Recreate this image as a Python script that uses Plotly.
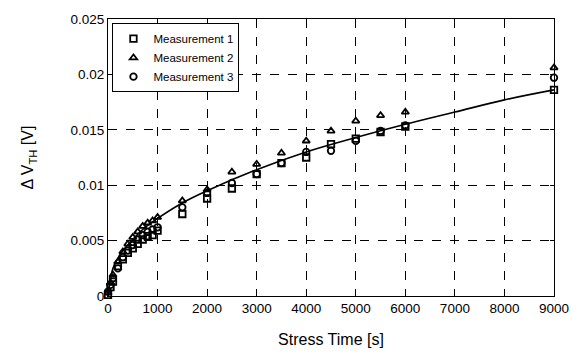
import plotly.graph_objects as go

t_meas = [0, 50, 100, 200, 300, 400, 500, 600, 700, 800, 900, 1000,
          1500, 2000, 2500, 3000, 3500, 4000, 4500, 5000, 5500, 6000, 9000]
meas1 = [0.0001, 0.0008, 0.0013, 0.0027, 0.0033, 0.0039, 0.0043, 0.0047, 0.0051, 0.0054, 0.0055, 0.0059,
         0.0074, 0.0088, 0.0097, 0.0110, 0.0120, 0.0125, 0.0137, 0.0142, 0.0148, 0.0153, 0.0186]
meas2 = [0.0003, 0.0012, 0.0019, 0.0031, 0.0040, 0.0047, 0.0053, 0.0058, 0.0063, 0.0066, 0.0068, 0.0071,
         0.0086, 0.0096, 0.0112, 0.0119, 0.0129, 0.0140, 0.0149, 0.0158, 0.0163, 0.0166, 0.0206]
meas3 = [0.0004, 0.0010, 0.0016, 0.0025, 0.0035, 0.0041, 0.0046, 0.0051, 0.0055, 0.0058, 0.0060, 0.0062,
         0.0080, 0.0093, 0.0102, 0.0110, 0.0120, 0.0130, 0.0131, 0.0140, 0.0149, 0.0154, 0.0197]

t_fit = [0, 100, 200, 300, 500, 700, 1000, 1500, 2000, 3000, 4000, 5000, 6000, 7000, 8000, 9000]
fit = [0.0, 0.0025, 0.0034, 0.0041, 0.0051, 0.0060, 0.0070, 0.0084, 0.0095, 0.0114,
       0.0130, 0.0143, 0.0155, 0.0166, 0.0177, 0.0186]

x_ticks = [0, 1000, 2000, 3000, 4000, 5000, 6000, 7000, 8000, 9000]
y_ticks = [0, 0.005, 0.01, 0.015, 0.02, 0.025]
y_labels = ["0", "0.005", "0.01", "0.015", "0.02", "0.025"]

FONT = "Liberation Sans, Arial, sans-serif"

fig = go.Figure()
fig.add_trace(go.Scatter(x=t_fit, y=fit, mode="lines", showlegend=False,
                         line=dict(color="black", width=1.6, shape="spline")))
for name, vals, sym in [("Measurement 1", meas1, "square-open"),
                        ("Measurement 2", meas2, "triangle-up-open"),
                        ("Measurement 3", meas3, "circle-open")]:
    fig.add_trace(go.Scatter(x=t_meas, y=vals, mode="markers", name=name, cliponaxis=False,
                             marker=dict(symbol=sym, size=6.5, color="black",
                                         line=dict(color="black", width=1.8))))

axis_common = dict(showline=True, linecolor="black", linewidth=1, mirror="allticks",
                   ticks="inside", ticklen=4, tickcolor="black",
                   showgrid=True, gridcolor="black", griddash="dash", gridwidth=0.8,
                   zeroline=False, tickfont=dict(family=FONT, size=13.5, color="black"))

fig.update_xaxes(range=[0, 9000], tickvals=x_ticks, **axis_common,
                 title=dict(text="Stress Time [s]", font=dict(family=FONT, size=16, color="black"),
                            standoff=18))
fig.update_yaxes(range=[0, 0.025], tickvals=y_ticks, ticktext=y_labels, **axis_common,
                 title=dict(text="Δ V<sub>TH</sub> [V]", font=dict(family=FONT, size=16, color="black"),
                            standoff=32))

fig.update_layout(
    width=581, height=357,
    margin=dict(l=108, r=26, t=16, b=61),
    paper_bgcolor="white", plot_bgcolor="white",
    font=dict(family=FONT, color="black"),
    legend=dict(x=0.01, y=0.985, xanchor="left", yanchor="top",
                bgcolor="white", bordercolor="black", borderwidth=1,
                font=dict(family=FONT, size=11.5, color="black"),
                tracegroupgap=0, itemwidth=30),
)

fig.write_html("out.html")
